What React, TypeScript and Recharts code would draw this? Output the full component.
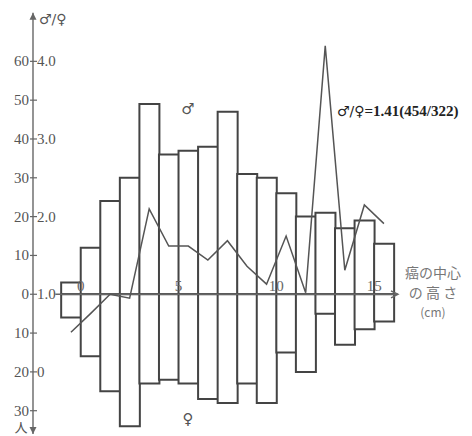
import { ComposedChart, Bar, Line, XAxis, YAxis, ReferenceLine, ReferenceDot, Customized } from 'recharts';

// bins are 1 cm wide, labelled by their lower edge
const binStart = [-1, 0, 1, 2, 3, 4, 5, 6, 7, 8, 9, 10, 11, 12, 13, 14, 15];
const maleCounts = [3, 12, 24, 30, 49, 36, 37, 38, 47, 31, 30, 26, 20, 21, 17, 19, 13];
const femaleCounts = [6, 16, 25, 34, 23, 22, 23, 27, 28, 23, 28, 15, 20, 5, 13, 9, 7];
const ratioValues = [0.51, 0.75, 1.0, 0.95, 2.1, 1.62, 1.62, 1.44, 1.69, 1.36, 1.13, 1.75, 1.02, 4.2, 1.31, 2.15, 1.91];

const xTicks = [0, 5, 10, 15];
const countTicks = [-30, -20, -10, 0, 10, 20, 30, 40, 50, 60];
const ratioTicks = [0, 1, 2, 3, 4];
const ratioLabels = ['0', '1.0', '2.0', '3.0', '4.0'];

const W = 472;
const H = 436;
const AXIS_X = 33;
const X_DOMAIN: [number, number] = [-2.44, 16.22];
const COUNT_DOMAIN: [number, number] = [-36, 74];
// ratio axis: 1.0 sits on the zero line, each 1.0 step = 20 persons
const RATIO_DOMAIN: [number, number] = [1 + COUNT_DOMAIN[0] / 20, 1 + COUNT_DOMAIN[1] / 20];

const SERIF = '"Liberation Serif", "DejaVu Serif", serif';
const SYM = '"DejaVu Sans", sans-serif';
const JP = '"Noto Sans CJK JP", sans-serif';
const AXIS_GREY = '#666';

const data = binStart.map((b, i) => ({
    x: b + 0.5,
    male: maleCounts[i],
    female: -femaleCounts[i],
    ratio: ratioValues[i],
}));

const YTick = (props: any) => {
    const { y, payload } = props;
    const v = payload.value;
    const ri = ratioTicks.findIndex(r => 20 * (r - 1) === v);
    return (
        <g>
            <line x1={AXIS_X - 3} x2={AXIS_X + 4} y1={y} y2={y} stroke={AXIS_GREY} strokeWidth={1.2} />
            <text x={AXIS_X - 4} y={y} dy={5} textAnchor="end" fontSize={15} fontFamily={SERIF} fill="#555">
                {Math.abs(v)}
            </text>
            {ri >= 0 && (
                <text x={AXIS_X + 4} y={y} dy={5} textAnchor="start" fontSize={15} fontFamily={SERIF} fill="#555">
                    {ratioLabels[ri]}
                </text>
            )}
        </g>
    );
};

const arrowShape = (both: boolean, open: boolean) => (p: any) => {
    const { x1, y1, x2, y2 } = p;
    const head = (tx: number, ty: number, fx: number, fy: number) => {
        const a = Math.atan2(ty - fy, tx - fx);
        const L = 7, S = 3.5;
        const bx = tx - L * Math.cos(a), by = ty - L * Math.sin(a);
        const px = -Math.sin(a) * S, py = Math.cos(a) * S;
        const pts = `${bx + px},${by + py} ${tx},${ty} ${bx - px},${by - py}`;
        return open
            ? <polyline points={pts} fill="none" stroke={AXIS_GREY} strokeWidth={1.4} />
            : <polygon points={pts} fill={AXIS_GREY} stroke="none" />;
    };
    return (
        <g>
            <line x1={x1} y1={y1} x2={x2} y2={y2} stroke={AXIS_GREY} strokeWidth={1.4} />
            {head(x2, y2, x1, y1)}
            {both && head(x1, y1, x2, y2)}
        </g>
    );
};

const Annotations = () => (
    <g>
        <text x={39} y={24} fontSize={14} fontFamily={SYM} fill="#555">♂/♀</text>
        <text x={21} y={432} textAnchor="middle" fontSize={13} fontFamily={JP} fill="#555">人</text>
        <text x={188} y={114} textAnchor="middle" fontSize={15} fontFamily={SYM} fill="#555">♂</text>
        <text x={188} y={424} textAnchor="middle" fontSize={15} fontFamily={SYM} fill="#555">♀</text>
        <text x={337} y={116} fontSize={15} fontWeight="bold" fontFamily={SERIF} fill="#222">
            <tspan fontFamily={SYM} fontWeight="normal" fontSize={14}>♂/♀</tspan>=1.41(454/322)
        </text>
        <g fontFamily={JP} fontSize={14} fill="#777" textAnchor="middle">
            <text x={433} y={278}>癌の中心</text>
            <text x={433} y={298}>の 高 さ</text>
            <text x={433} y={317} fontSize={12}>(cm)</text>
        </g>
    </g>
);

export default function App() {
    return (
        <div style={{ position: 'absolute', left: 0, top: 0, width: W, height: H, background: '#fff' }}>
            <ComposedChart
                width={W}
                height={H}
                data={data}
                stackOffset="sign"
                barCategoryGap={0}
                barGap={0}
                margin={{ top: 7, right: W - 398, bottom: 2, left: 0 }}
            >
                <XAxis dataKey="x" type="number" domain={X_DOMAIN} allowDataOverflow hide />
                <YAxis
                    yAxisId="count"
                    width={AXIS_X}
                    domain={COUNT_DOMAIN}
                    ticks={countTicks}
                    allowDataOverflow
                    axisLine={false}
                    tickLine={false}
                    tick={<YTick />}
                    interval={0}
                />
                <YAxis yAxisId="ratio" domain={RATIO_DOMAIN} allowDataOverflow hide />
                <Bar yAxisId="count" dataKey="male" stackId="s" fill="#fff" stroke="#444" strokeWidth={2} isAnimationActive={false} />
                <Bar yAxisId="count" dataKey="female" stackId="s" fill="#fff" stroke="#444" strokeWidth={2} isAnimationActive={false} />
                <ReferenceLine
                    yAxisId="count"
                    segment={[{ x: -1.3, y: 0 }, { x: X_DOMAIN[1], y: 0 }]}
                    ifOverflow="visible"
                    shape={arrowShape(false, true)}
                />
                <ReferenceLine
                    yAxisId="count"
                    segment={[{ x: X_DOMAIN[0], y: -36 }, { x: X_DOMAIN[0], y: 72.5 }]}
                    ifOverflow="visible"
                    shape={arrowShape(true, false)}
                />
                <Line yAxisId="ratio" dataKey="ratio" type="linear" stroke="#555" strokeWidth={1.5} dot={false} isAnimationActive={false} />
                {xTicks.map(t => (
                    <ReferenceDot
                        key={t}
                        yAxisId="count"
                        x={t}
                        y={0}
                        r={0}
                        fill="none"
                        stroke="none"
                        label={{ value: String(t), position: 'top', offset: 3, fill: AXIS_GREY, fontSize: 15, fontFamily: SERIF }}
                    />
                ))}
                <Customized component={Annotations} />
            </ComposedChart>
        </div>
    );
}
